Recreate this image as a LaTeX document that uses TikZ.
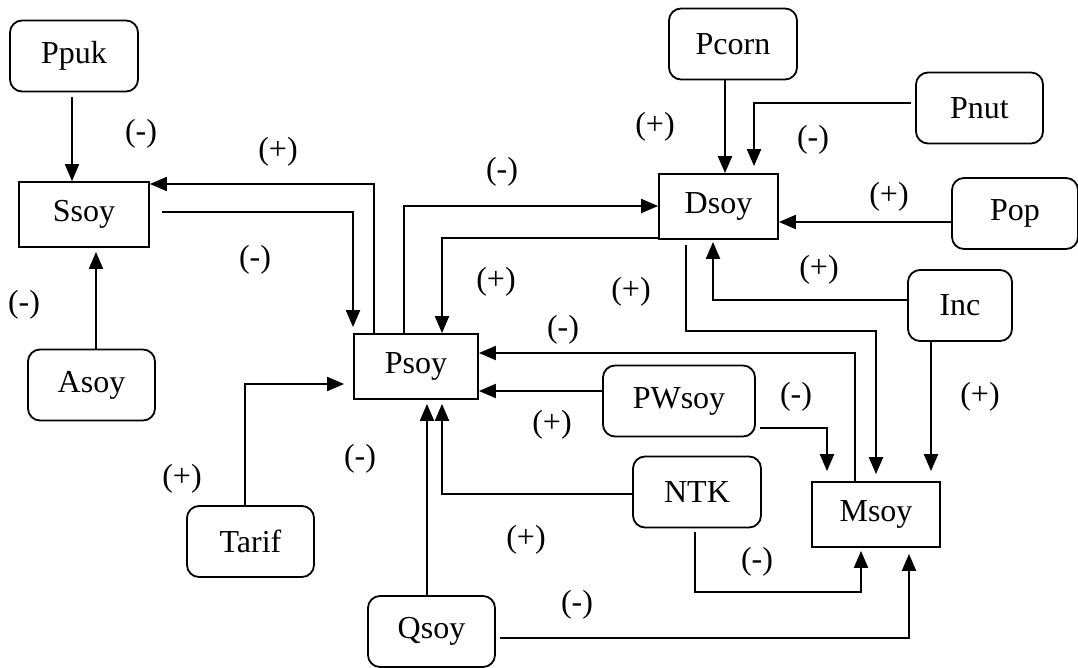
\documentclass[tikz,border=0pt]{standalone}
\usepackage{fontspec}
\setmainfont{Liberation Serif}
\usetikzlibrary{arrows.meta,calc}
\begin{document}
\begin{tikzpicture}[x=1pt,y=-1pt,
  font=\fontsize{32}{38}\selectfont,
  sqbox/.style={draw,line width=1.8pt,inner sep=0pt,minimum width=#1},
  rbox/.style={draw,line width=1.8pt,rounded corners=12pt,inner sep=0pt,minimum width=#1,minimum height=71pt},
  arr/.style={line width=2pt,-{Triangle[length=17pt,width=14pt]}},
  lbl/.style={inner sep=0pt}]
\useasboundingbox[fill=white] (0,0) rectangle (1078,668);
% nodes
\node[rbox=128] (Ppuk) at (74,56) {Ppuk\hspace{16pt}};
\node[sqbox=130,minimum height=65pt] (Ssoy) at (84,214.5) {Ssoy};
\node[rbox=127] (Asoy) at (91.5,385) {Asoy\hspace{14pt}};
\node[sqbox=124,minimum height=65pt] (Psoy) at (416,366.5) {Psoy};
\node[rbox=127] (Tarif) at (250.5,541.5) {Tarif\hspace{14pt}};
\node[rbox=127] (Qsoy) at (431.5,631.5) {Qsoy\hspace{14pt}};
\node[sqbox=119,minimum height=65pt] (Dsoy) at (718.5,206.5) {Dsoy};
\node[rbox=128] (Pcorn) at (733,44) {Pcorn\hspace{6pt}};
\node[rbox=127] (Pnut) at (979.5,108) {Pnut\hspace{22pt}};
\node[rbox=126] (Pop) at (1015,213.5) {Pop\hspace{28pt}};
\node[rbox=104] (Inc) at (960,305.5) {Inc\hspace{16pt}};
\node[rbox=152] (PWsoy) at (679,401) {PWsoy\hspace{14pt}};
\node[rbox=128] (NTK) at (697,492) {NTK\hspace{14pt}};
\node[sqbox=128,minimum height=65pt] (Msoy) at (876,514.5) {Msoy};
% connectors
\draw[arr,shorten <=5pt] (Ppuk.south -| 72,0) -- (Ssoy.north -| 72,0);
\draw[arr,shorten >=4pt] (Asoy.north -| 96,0) -- (Ssoy.south -| 96,0);
\draw[arr] (Psoy.north -| 374,0) |- (Ssoy.east |- 0,184);
\draw[arr,shorten <=12pt,shorten >=6pt] (Ssoy.east |- 0,212) -| (Psoy.north -| 353,0);
\draw[arr] (Psoy.north -| 404,0) |- (Dsoy.west |- 0,206);
\draw[arr] (Dsoy.west |- 0,238) -| (Psoy.north -| 442,0);
\draw[arr] (Pcorn.south -| 725,0) -- (Dsoy.north -| 725,0);
\draw[arr,shorten <=4pt,shorten >=7pt] (Pnut.west |- 0,103) -| (Dsoy.north -| 754,0);
\draw[arr] (Pop.west |- 0,222) -- (Dsoy.east |- 0,222);
\draw[arr,shorten >=2pt] (Inc.west |- 0,300) -| (Dsoy.south -| 713,0);
\draw[arr,shorten >=10pt] (Inc.south -| 931,0) -- (Msoy.north -| 931,0);
\draw[arr,shorten <=5pt,shorten >=7pt] (Dsoy.south -| 686,0) |- (876,331) -- (Msoy.north);
\draw[arr] (Msoy.north -| 855,0) |- (Psoy.east |- 0,353);
\draw[arr] (PWsoy.west |- 0,391) -- (Psoy.east |- 0,391);
\draw[arr,shorten <=4pt,shorten >=10pt] (PWsoy.east |- 0,428) -| (Msoy.north -| 827,0);
\draw[arr,shorten >=4pt] (NTK.west |- 0,494) -| (Psoy.south -| 442,0);
\draw[arr,shorten >=4pt] (Qsoy.north -| 427,0) -- (Psoy.south -| 427,0);
\draw[arr,shorten >=9pt] (Tarif.north -| 245,0) |- (Psoy.west |- 0,384);
\draw[arr,shorten <=4pt,shorten >=3pt] (NTK.south -| 695,0) |- (861,592) -- (Msoy.south -| 861,0);
\draw[arr,shorten <=4pt,shorten >=6pt] (Qsoy.east |- 0,638) -| (Msoy.south -| 909,0);
% labels
\node[lbl] (l1) at (141,134) {(-)};
\node[lbl] (l2) at (278,152) {(+)};
\node[lbl] (l3) at (255,260) {(-)};
\node[lbl] (l4) at (24,305) {(-)};
\node[lbl] (l5) at (655,127) {(+)};
\node[lbl] (l6) at (502,172) {(-)};
\node[lbl] (l7) at (496,282) {(+)};
\node[lbl] (l8) at (631,292) {(+)};
\node[lbl] (l9) at (563,330) {(-)};
\node[lbl] (l10) at (813,140) {(-)};
\node[lbl] (l11) at (889,197) {(+)};
\node[lbl] (l12) at (819,270) {(+)};
\node[lbl] (l13) at (980,397) {(+)};
\node[lbl] (l14) at (796,397) {(-)};
\node[lbl] (l15) at (757,562) {(-)};
\node[lbl] (l16) at (577,605) {(-)};
\node[lbl] (l17) at (526,540) {(+)};
\node[lbl] (l18) at (552,425) {(+)};
\node[lbl] (l19) at (360,459) {(-)};
\node[lbl] (l20) at (182,479) {(+)};
\end{tikzpicture}
\end{document}
